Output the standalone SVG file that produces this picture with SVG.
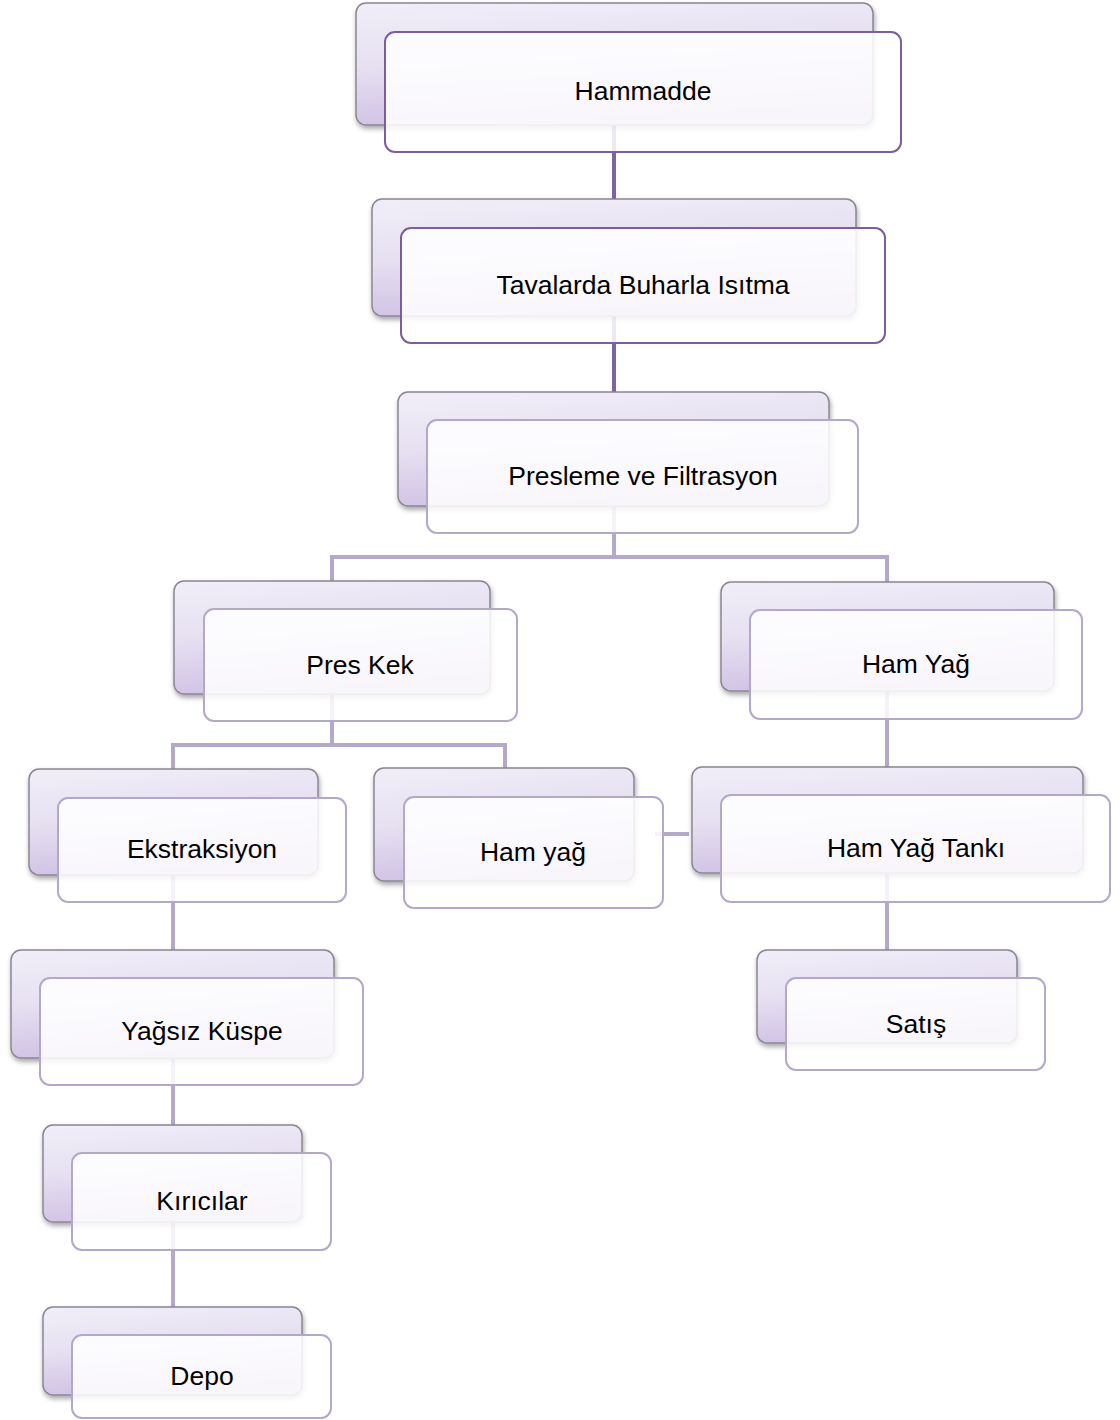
<svg xmlns="http://www.w3.org/2000/svg" width="1120" height="1420" viewBox="0 0 1120 1420">
<style>
.back{fill:url(#g);stroke:#8a8690;stroke-width:1.5;filter:url(#sh)}
.front{fill:#ffffff;fill-opacity:0.86;stroke-width:2}
.fd{stroke:#7a5e9e}
.fl{stroke:#b4a7cc}
.cd{stroke:#7c64a0;stroke-width:4;fill:none}
.cl{stroke:#b4a8cb;stroke-width:4;fill:none}
text{font-family:"Liberation Sans",Arial,sans-serif;font-size:26.5px;fill:#000;text-anchor:middle}
</style>
<defs>
<linearGradient id="g" x1="0" y1="0" x2="0.25" y2="1">
<stop offset="0" stop-color="#f1eef8"/>
<stop offset="0.5" stop-color="#e6e0f1"/>
<stop offset="1" stop-color="#cfc1e4"/>
</linearGradient>
<filter id="sh" x="-10%" y="-10%" width="120%" height="130%">
<feDropShadow dx="1" dy="3" stdDeviation="2.5" flood-color="#000" flood-opacity="0.35"/>
</filter>
</defs>
<g id="connectors">
<path class="cd" d="M614 125V199"/>
<path class="cd" d="M614 316V392"/>
<path class="cl" d="M614 506V557"/>
<path class="cl" d="M332 582V557H887V582"/>
<path class="cl" d="M332 694V745"/>
<path class="cl" d="M173 769V745H505V768"/>
<path class="cl" d="M887 691V767"/>
<path class="cl" d="M655 834H689"/>
<path class="cl" d="M173 875V950"/>
<path class="cl" d="M887 873V950"/>
<path class="cl" d="M173 1058V1125"/>
<path class="cl" d="M173 1222V1307"/>
</g>
<g id="n1"><rect class="back" x="356" y="3" width="517" height="122" rx="10"/><rect class="front fd" x="385" y="32" width="516" height="120" rx="10"/><text x="643" y="100">Hammadde</text></g>
<g id="n2"><rect class="back" x="372" y="199" width="484" height="117" rx="10"/><rect class="front fd" x="401" y="228" width="484" height="115" rx="10"/><text x="643" y="294">Tavalarda Buharla Isıtma</text></g>
<g id="n3"><rect class="back" x="398" y="392" width="431" height="114" rx="10"/><rect class="front fl" x="427" y="420" width="431" height="113" rx="10"/><text x="643" y="485">Presleme ve Filtrasyon</text></g>
<g id="n4"><rect class="back" x="174" y="581" width="316" height="113" rx="10"/><rect class="front fl" x="204" y="609" width="313" height="112" rx="10"/><text x="360" y="674">Pres Kek</text></g>
<g id="n5"><rect class="back" x="721" y="582" width="333" height="109" rx="10"/><rect class="front fl" x="750" y="610" width="332" height="109" rx="10"/><text x="916" y="673">Ham Yağ</text></g>
<g id="n6"><rect class="back" x="29" y="769" width="289" height="106" rx="10"/><rect class="front fl" x="58" y="798" width="288" height="104" rx="10"/><text x="202" y="858">Ekstraksiyon</text></g>
<g id="n7"><rect class="back" x="374" y="768" width="260" height="113" rx="10"/><rect class="front fl" x="404" y="797" width="259" height="111" rx="10"/><text x="533" y="861">Ham yağ</text></g>
<g id="n8"><rect class="back" x="692" y="767" width="391" height="106" rx="10"/><rect class="front fl" x="721" y="795" width="389" height="107" rx="10"/><text x="916" y="857">Ham Yağ Tankı</text></g>
<g id="n9"><rect class="back" x="11" y="950" width="323" height="108" rx="10"/><rect class="front fl" x="40" y="978" width="323" height="107" rx="10"/><text x="202" y="1040">Yağsız Küspe</text></g>
<g id="n10"><rect class="back" x="757" y="950" width="260" height="93" rx="10"/><rect class="front fl" x="786" y="978" width="259" height="92" rx="10"/><text x="916" y="1033">Satış</text></g>
<g id="n11"><rect class="back" x="43" y="1125" width="259" height="97" rx="10"/><rect class="front fl" x="72" y="1153" width="259" height="97" rx="10"/><text x="202" y="1210">Kırıcılar</text></g>
<g id="n12"><rect class="back" x="43" y="1307" width="259" height="88" rx="10"/><rect class="front fl" x="72" y="1335" width="259" height="83" rx="10"/><text x="202" y="1385">Depo</text></g>
</svg>
